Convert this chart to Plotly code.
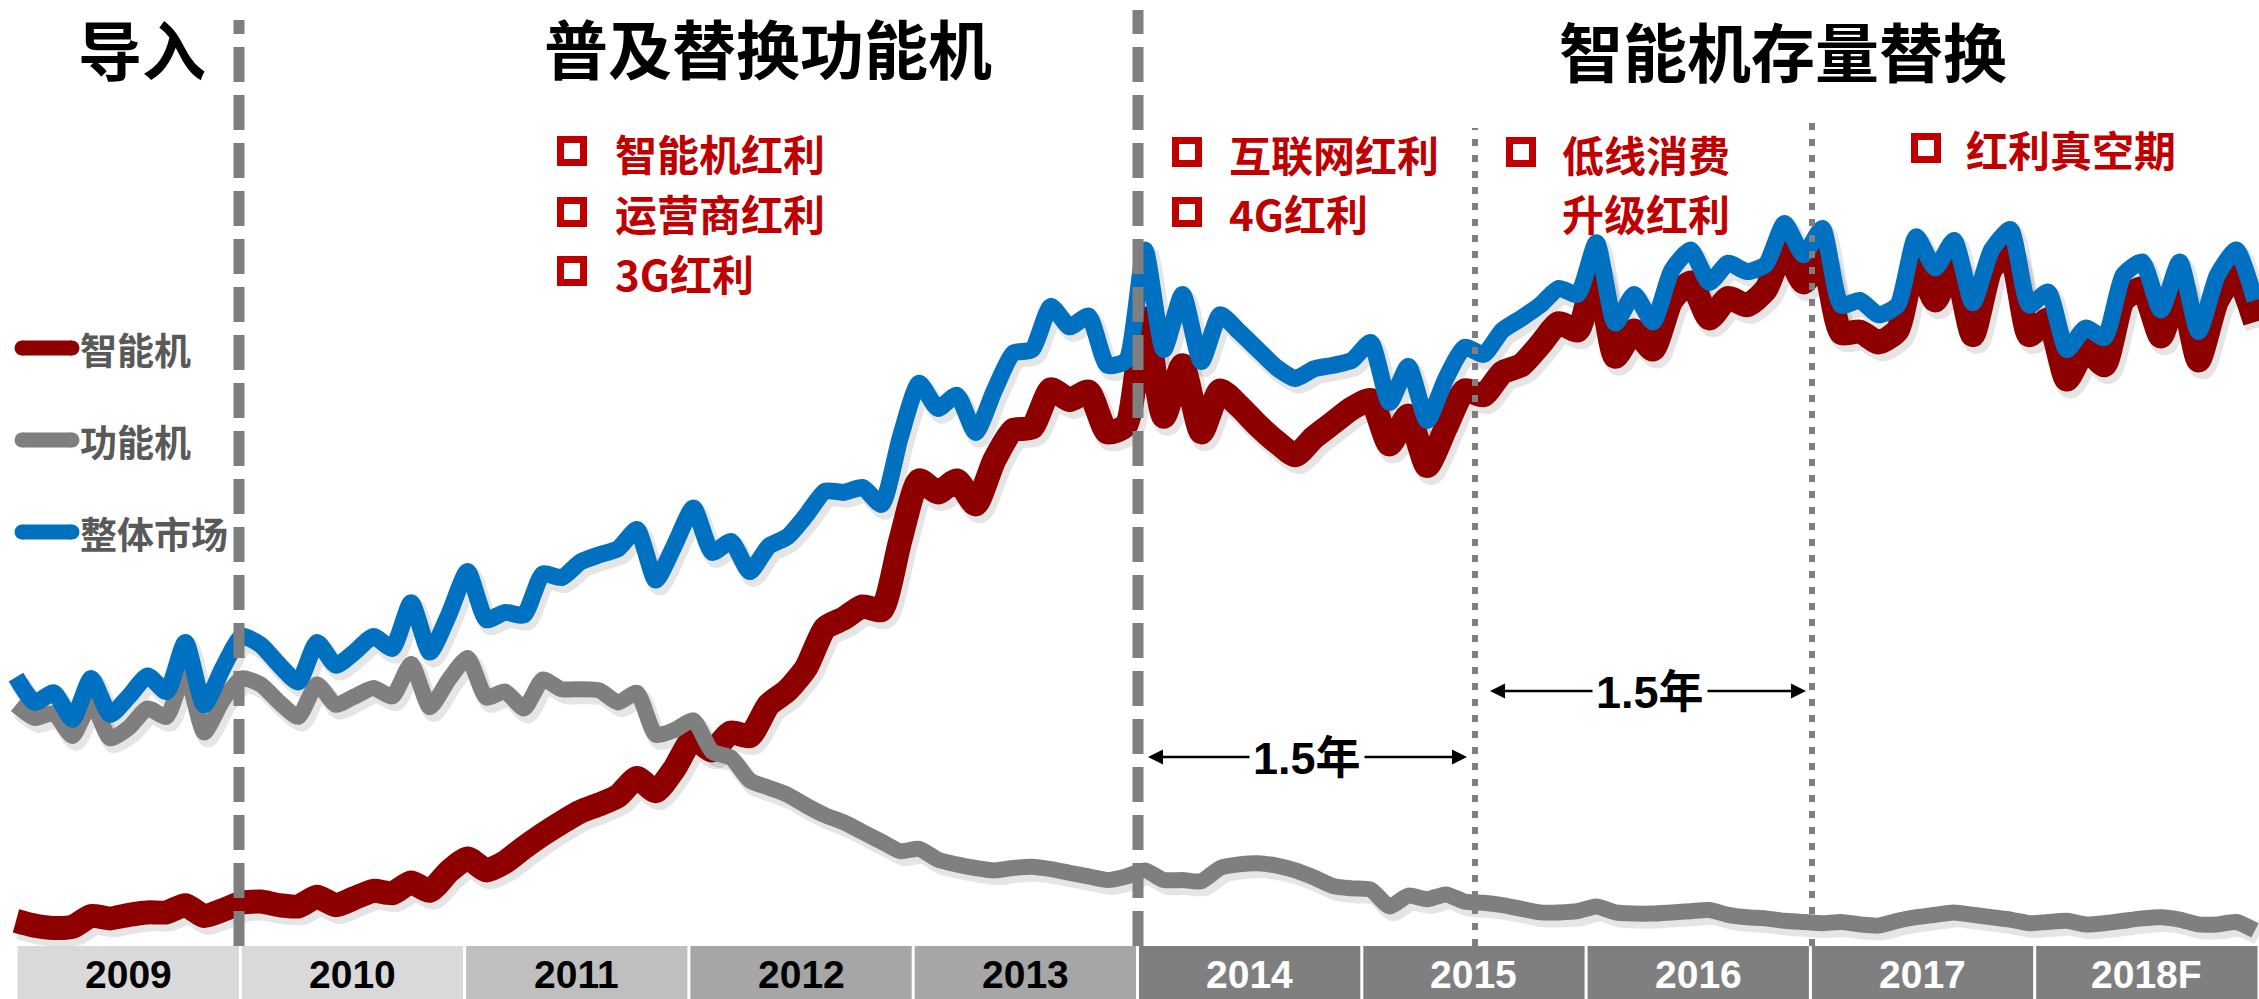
import plotly.graph_objects as go

W, H = 2259, 999

# ---------------- data (monthly, 2009-01 .. 2018-12, million units) ----------------
months = list(range(120))
year_labels = ["2009", "2010", "2011", "2012", "2013", "2014", "2015", "2016", "2017", "2018F"]
series_names = ["智能机", "功能机", "整体市场"]

total = [22.4, 20.3, 21.1, 18.9, 22.3, 19.3, 20.8, 22.5, 21.2, 25.3, 20.1, 23.2,
         25.8, 25.1, 23.4, 22.0, 25.3, 23.4, 24.5, 25.8, 24.8, 28.6, 24.5, 27.6,
         31.2, 27.2, 27.8, 27.6, 31.0, 30.7, 32.0, 32.6, 33.1, 34.7, 30.5, 33.4,
         36.5, 32.8, 33.7, 31.2, 33.3, 34.1, 35.9, 37.9, 37.8, 38.2, 36.8, 42.4,
         46.9, 44.8, 45.9, 42.8, 46.3, 49.4, 49.7, 53.3, 51.6, 52.5, 48.4, 48.8,
         58.0, 49.7, 54.3, 48.7, 52.6, 51.2, 49.7, 48.2, 47.3, 48.1, 48.4, 48.8,
         50.3, 45.3, 48.3, 43.8, 47.3, 49.9, 49.3, 51.3, 52.3, 53.4, 54.8, 54.3,
         58.6, 51.9, 54.3, 52.0, 56.3, 58.0, 55.3, 56.9, 56.2, 56.8, 60.2, 57.6,
         59.8, 53.4, 53.8, 52.6, 53.4, 59.1, 56.5, 58.8, 53.6, 58.0, 59.7, 53.4,
         54.5, 49.7, 51.5, 50.7, 55.9, 57.0, 53.0, 57.0, 51.2, 55.9, 58.0, 53.8]

feature = [20.1, 19.0, 19.4, 17.5, 20.3, 17.3, 18.2, 19.8, 19.1, 22.8, 17.8, 20.5,
           22.3, 21.8, 20.3, 19.1, 21.8, 20.1, 20.8, 21.5, 20.8, 23.5, 19.9, 22.2,
           24.0, 20.7, 21.2, 19.8, 22.2, 21.4, 21.4, 21.3, 20.3, 21.1, 17.6, 18.0,
           18.8, 16.2, 15.7, 13.8, 13.2, 12.6, 11.7, 10.9, 10.3, 9.5, 8.7, 7.9,
           8.1, 7.2, 6.8, 6.5, 6.3, 6.5, 6.6, 6.4, 6.1, 5.8, 5.5, 5.8,
           6.3, 5.5, 5.5, 5.4, 6.5, 6.8, 6.9, 6.7, 6.3, 5.7, 5.0, 4.8,
           4.7, 3.3, 4.2, 3.9, 4.3, 3.7, 3.6, 3.4, 3.1, 2.8, 2.8, 2.9,
           3.3, 2.8, 2.7, 2.7, 2.8, 2.9, 3.0, 2.6, 2.4, 2.3, 2.1, 2.0,
           1.9, 2.0, 1.8, 1.7, 2.1, 2.4, 2.6, 2.8, 2.6, 2.4, 2.2, 1.9,
           2.0, 2.1, 1.8, 1.9, 2.1, 2.3, 2.4, 2.2, 1.8, 1.8, 2.0, 1.3]

smart = [2.1, 1.7, 1.5, 1.6, 2.5, 2.3, 2.6, 2.8, 2.8, 3.4, 2.5, 3.0,
         3.6, 3.7, 3.4, 3.3, 4.1, 3.4, 4.0, 4.6, 4.4, 5.3, 4.6, 6.2,
         7.3, 6.3, 7.0, 8.2, 9.3, 10.3, 11.2, 11.8, 12.5, 14.0, 12.9, 14.8,
         17.3, 16.3, 17.8, 17.5, 20.1, 21.3, 23.2, 26.5, 27.3, 28.3, 28.0, 33.8,
         38.8, 37.8, 38.8, 36.8, 40.5, 43.0, 43.2, 46.4, 45.5, 46.2, 42.8, 43.4,
         52.3, 44.1, 48.4, 42.8, 46.3, 45.0, 43.4, 42.0, 40.9, 42.4, 43.6, 44.8,
         45.5, 41.8, 44.2, 40.0, 43.2, 46.3, 45.9, 47.8, 48.4, 50.1, 51.9, 51.3,
         56.3, 49.1, 51.3, 49.7, 53.8, 55.3, 52.3, 54.0, 53.4, 54.7, 58.2, 55.3,
         57.2, 51.1, 51.2, 50.3, 51.3, 57.3, 53.8, 57.0, 50.9, 56.5, 57.6, 50.9,
         52.2, 47.2, 49.7, 48.4, 53.8, 54.8, 50.8, 55.1, 48.8, 53.8, 55.9, 52.0]

phase_titles = ["导入", "普及替换功能机", "智能机存量替换"]
bullets_left = ["智能机红利", "运营商红利", "3G红利"]
bullets_mid = ["互联网红利", "4G红利"]
bullets_mid2 = ["低线消费", "升级红利"]
bullets_right = ["红利真空期"]
gap_label = "1.5年"

# ---------------- styling ----------------
RED = "#8e0000"
GRAY = "#7f7f7f"
BLUE = "#0070c0"
TXT_RED = "#c00000"
CJK = "Noto Sans CJK SC, Noto Sans CJK JP, sans-serif"
LAT = "Liberation Sans, Arial, Noto Sans CJK SC, sans-serif"
box_colors = ["#d9d9d9", "#d9d9d9", "#bfbfbf", "#a6a6a6", "#a6a6a6",
              "#7f7f7f", "#7f7f7f", "#7f7f7f", "#7f7f7f", "#7f7f7f"]
box_text = ["black"] * 5 + ["white"] * 5


def px(x):
    return x / W


def py(y):
    return 1 - y / H


def label(x, y, text, size, color, family=CJK, xanchor="center"):
    return dict(xref="paper", yref="paper", x=px(x), y=py(y), xanchor=xanchor, yanchor="middle",
                text="<b>%s</b>" % text, showarrow=False,
                font=dict(family=family, size=size, color=color))


fig = go.Figure()

series = [(smart, RED, 24), (feature, GRAY, 16), (total, BLUE, 17)]
# soft shadows
for vals, col, wd in series:
    fig.add_trace(go.Scatter(x=[m + 0.2 for m in months], y=[v - 0.45 for v in vals],
                             mode="lines", line=dict(color="rgba(0,0,0,0.10)", width=wd + 3,
                                                     shape="spline", smoothing=0.6),
                             hoverinfo="skip", showlegend=False))
for (vals, col, wd), name in zip(series, series_names):
    fig.add_trace(go.Scatter(x=months, y=vals, mode="lines", name=name,
                             line=dict(color=col, width=wd, shape="spline", smoothing=0.6),
                             showlegend=False))

shapes = []
# vertical phase separators
for xpos, ytop in [(239, 20), (1138, 10)]:
    shapes.append(dict(type="line", xref="paper", yref="paper", x0=px(xpos), x1=px(xpos),
                       y0=py(946), y1=py(ytop), line=dict(color=GRAY, width=11, dash="35px,13px"),
                       layer="above"))
for xpos, ytop in [(1475, 128), (1812, 120)]:
    shapes.append(dict(type="line", xref="paper", yref="paper", x0=px(xpos), x1=px(xpos),
                       y0=py(946), y1=py(ytop), line=dict(color=GRAY, width=6, dash="7px,9px"),
                       layer="above"))

# year boxes
left, yw = 16, 224.3
annotations = []
for k, lab in enumerate(year_labels):
    x0 = left + k * yw
    x1 = x0 + yw
    shapes.append(dict(type="rect", xref="paper", yref="paper", x0=px(x0 + 1.5), x1=px(x1 - 1.5),
                       y0=py(999), y1=py(946), fillcolor=box_colors[k], line=dict(width=0),
                       layer="above"))
    annotations.append(label((x0 + x1) / 2, 974, lab, 39, box_text[k], family=LAT))

# legend (drawn manually)
for name, col, yc in zip(series_names, [RED, GRAY, BLUE], [348, 440, 532]):
    shapes.append(dict(type="rect", xref="paper", yref="paper", x0=px(22), x1=px(72),
                       y0=py(yc + 7.5), y1=py(yc - 7.5), fillcolor=col, line=dict(width=0)))
    for cx in (22, 72):
        shapes.append(dict(type="circle", xref="paper", yref="paper", x0=px(cx - 7.5), x1=px(cx + 7.5),
                           y0=py(yc + 7.5), y1=py(yc - 7.5), fillcolor=col, line=dict(width=0)))
    annotations.append(label(78, yc + 1, name, 37, "#595959", xanchor="left"))

# phase titles
for t, xc, yc in zip(phase_titles, [142, 768, 1783], [47, 46, 49]):
    annotations.append(label(xc, yc, t, 64, "black"))


def bullet(sq_x, text_x, yc, text, square=True):
    if square:
        shapes.append(dict(type="rect", xref="paper", yref="paper",
                           x0=px(sq_x + 3.5), x1=px(sq_x + 30 - 3.5),
                           y0=py(yc + 15 - 3.5), y1=py(yc - 15 + 3.5),
                           line=dict(color=TXT_RED, width=7), fillcolor="white"))
    annotations.append(label(text_x, yc + 1, text, 42, TXT_RED, xanchor="left"))


for t, yc in zip(bullets_left, [151, 212, 271]):
    bullet(557, 613, yc, t)
for t, yc in zip(bullets_mid, [152, 212]):
    bullet(1172, 1227, yc, t)
bullet(1506, 1560, 152, bullets_mid2[0])
bullet(1506, 1560, 212, bullets_mid2[1], square=False)
bullet(1911, 1964, 148, bullets_right[0])

# 1.5年 double arrows
for xl, xr, xc, yc in [(1148, 1467, 1307, 757), (1490, 1806, 1650, 691)]:
    half = 56
    annotations.append(dict(xref="paper", yref="paper", x=px(xl), y=py(yc), ax=(xc - half) - xl, ay=0,
                            text="", showarrow=True, arrowhead=2, arrowsize=1.2, arrowwidth=2.5,
                            arrowcolor="black", standoff=0))
    annotations.append(dict(xref="paper", yref="paper", x=px(xr), y=py(yc), ax=(xc + half) - xr, ay=0,
                            text="", showarrow=True, arrowhead=2, arrowsize=1.2, arrowwidth=2.5,
                            arrowcolor="black", standoff=0))
    annotations.append(label(xc, yc + 1, gap_label, 45, "black", family=LAT))

step = 18.815
fig.update_layout(
    width=W, height=H,
    margin=dict(l=0, r=0, t=0, b=0),
    paper_bgcolor="white", plot_bgcolor="white",
    xaxis=dict(range=[-16 / step, (W - 16) / step], visible=False, fixedrange=True),
    yaxis=dict(range=[(946 - H) / 12, 946 / 12], visible=False, fixedrange=True),
    shapes=shapes, annotations=annotations,
    showlegend=False, hovermode=False,
)

fig.write_html("out.html", config={"displayModeBar": False},
               post_script="document.body.style.margin='0px';")
